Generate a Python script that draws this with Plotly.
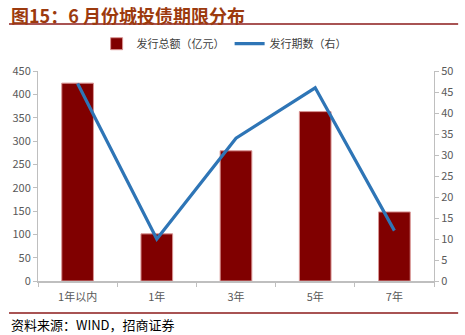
import plotly.graph_objects as go

categories = ["1年以内", "1年", "3年", "5年", "7年"]
amount = [424, 101, 279, 363, 148]   # 发行总额（亿元）
count = [47, 10, 34, 46, 12]         # 发行期数（右）

FONT = "Noto Sans CJK SC"
GRAY = "#595959"
AXIS = "#BFBFBF"

fig = go.Figure()
fig.add_trace(go.Bar(
    x=categories, y=amount, name="发行总额（亿元）",
    marker=dict(color="#800000", line=dict(color="#D99594", width=1)),
    width=0.4, yaxis="y",
))
fig.add_trace(go.Scatter(
    x=categories, y=count, name="发行期数（右）", mode="lines",
    line=dict(color="#2E75B6", width=3.2), yaxis="y2",
))

fig.update_layout(
    width=465, height=335,
    margin=dict(l=30, r=25, t=71, b=54),
    paper_bgcolor="white", plot_bgcolor="white",
    font=dict(family=FONT, size=11, color=GRAY),
    showlegend=True,
    legend=dict(orientation="h", x=0.47, y=1.13, xanchor="center", yanchor="middle",
                yref="paper", font=dict(size=11, color="#404040"),
                itemwidth=30, tracegroupgap=0),
    xaxis=dict(
        type="category", tickson="boundaries", ticks="outside", ticklen=4,
        tickcolor=AXIS, showline=True, linecolor=AXIS, linewidth=1.5,
        showgrid=False, tickfont=dict(size=11, color=GRAY), ticklabelstandoff=5,
    ),
    yaxis=dict(
        range=[0, 450], dtick=50, showgrid=False, showline=True,
        linecolor=AXIS, linewidth=1, ticks="outside", ticklen=4, tickcolor=AXIS,
        tickfont=dict(size=11, color=GRAY), zeroline=False,
    ),
    yaxis2=dict(
        range=[0, 50], dtick=5, overlaying="y", side="right", showgrid=False,
        showline=True, linecolor=AXIS, linewidth=1, ticks="outside", ticklen=4,
        tickcolor=AXIS, tickfont=dict(size=11, color=GRAY), zeroline=False,
    ),
)

fig.add_annotation(
    text="<b>图15：6 月份城投债期限分布</b>", xref="paper", yref="paper",
    x=-30/410, y=1.0, xanchor="left", yanchor="top",
    yshift=71 - 0, showarrow=False,
    font=dict(family=FONT, size=18, color="#9C3A0E"),
)
fig.add_annotation(
    text="资料来源：WIND，招商证券", xref="paper", yref="paper",
    x=-30/410, y=0, xanchor="left", yanchor="top", yshift=-32,
    showarrow=False, font=dict(family=FONT, size=13, color="#000000"),
)
# rule lines under the title and above the source note
fig.add_shape(type="line", xref="paper", yref="paper", x0=-30/410, x1=1 + 25/410,
              y0=1 + 47/210, y1=1 + 47/210, line=dict(color="#8B1A1A", width=1.5))
fig.add_shape(type="line", xref="paper", yref="paper", x0=-30/410, x1=1 + 25/410,
              y0=-32/210, y1=-32/210, line=dict(color="#8B1A1A", width=1.5))

fig.write_html("out.html")
